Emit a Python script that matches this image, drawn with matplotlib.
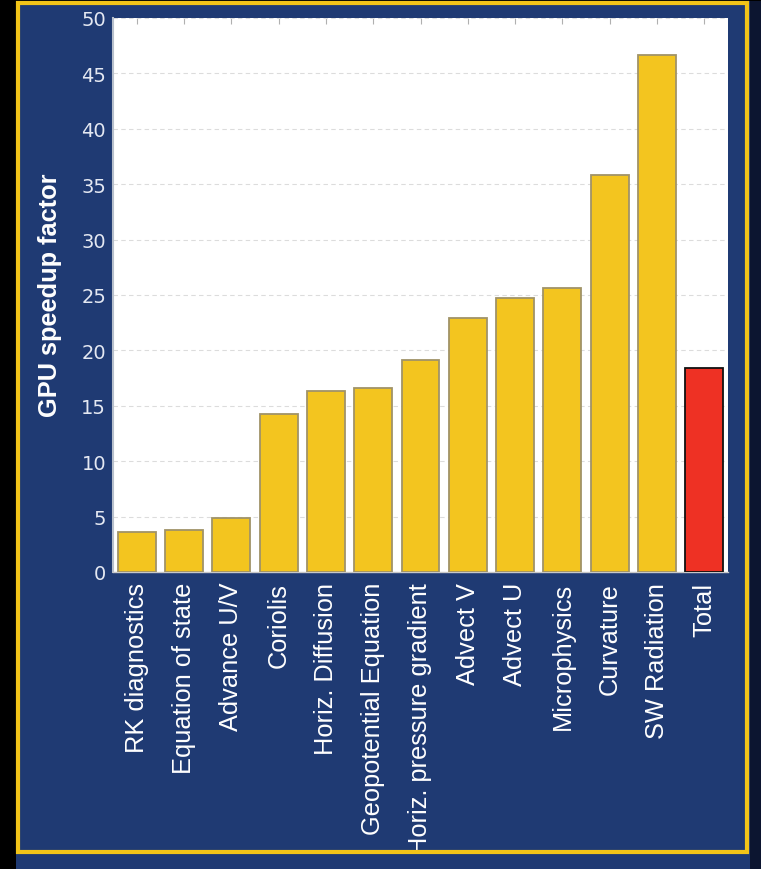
import matplotlib
matplotlib.use("Agg")
import matplotlib.pyplot as plt
from matplotlib.patches import Rectangle

# data
categories = ["RK diagnostics", "Equation of state", "Advance U/V", "Coriolis",
              "Horiz. Diffusion", "Geopotential Equation", "Horiz. pressure gradient",
              "Advect V", "Advect U", "Microphysics", "Curvature", "SW Radiation", "Total"]
speedup = [3.65, 3.8, 4.9, 14.3, 16.3, 16.6, 19.1, 22.9, 24.7, 25.6, 35.8, 46.7, 18.4]
yticks = [0, 5, 10, 15, 20, 25, 30, 35, 40, 45, 50]

navy = "#1f3a73"
gold = "#f2c418"
bar_yellow = "#f3c51f"
total_red = "#ee3124"

plt.rcParams['font.family'] = ['Liberation Sans', 'DejaVu Sans']

W, H = 761, 870
fig = plt.figure(figsize=(W / 100, H / 100), dpi=100)
fig.patch.set_facecolor(navy)

# frame decorations (figure coords)
fig.patches.append(Rectangle((0, 0), 16 / W, 1, transform=fig.transFigure,
                             facecolor="black", edgecolor="none", zorder=0))
fig.patches.append(Rectangle((750 / W, 0), 11 / W, 1, transform=fig.transFigure,
                             facecolor="#0c1530", edgecolor="none", zorder=0))
fig.patches.append(Rectangle((0, 1 - 2 / H), 1, 2 / H, transform=fig.transFigure,
                             facecolor="black", edgecolor="none", zorder=0))
fig.patches.append(Rectangle((18 / W, (H - 852.5) / H), (746.5 - 18) / W, (852.5 - 3.5) / H,
                             transform=fig.transFigure, fill=False,
                             edgecolor=gold, linewidth=3, zorder=1))

ax = fig.add_axes([113 / W, (H - 573) / H, 615 / W, 554 / H])
ax.set_facecolor("white")

colors = [bar_yellow] * (len(categories) - 1) + [total_red]
edges = ["#a09368"] * (len(categories) - 1) + ["#111111"]
x = list(range(len(categories)))
ax.bar(x, speedup, width=0.8, color=colors, edgecolor=edges, linewidth=1.3, zorder=3)

ax.set_xlim(-0.5, len(categories) - 0.5)
ax.set_ylim(0, 50)
ax.set_yticks(yticks)
ax.set_yticklabels([str(v) for v in yticks], family='DejaVu Sans', fontsize=14, color="#e4e8f2")
ax.set_xticks(x)
ax.set_xticklabels(categories, rotation=90, fontsize=18.3, color="white")

ax.grid(axis="y", color="#dcdcdc", linestyle=(0, (4, 3)), linewidth=0.8, zorder=0)
ax.tick_params(axis="y", length=0, pad=5)
ax.tick_params(axis="x", length=0, pad=7, top=True)
ax.tick_params(axis="x", which="major", top=True, direction="in", length=4, color="#b0b0b0")
ax.tick_params(axis="x", bottom=False)

for s in ["top", "right"]:
    ax.spines[s].set_visible(False)
ax.spines["left"].set_color("#b8c0cc")
ax.spines["left"].set_linewidth(1.5)
ax.spines["bottom"].set_color("#c8c8c8")
ax.spines["bottom"].set_linewidth(1.0)

ax.set_ylabel("GPU speedup factor", fontsize=18.3, fontweight="bold", color="white")
ax.yaxis.set_label_coords(-0.083, 0.502)

fig.savefig("out.png", dpi=100, facecolor=fig.get_facecolor())
